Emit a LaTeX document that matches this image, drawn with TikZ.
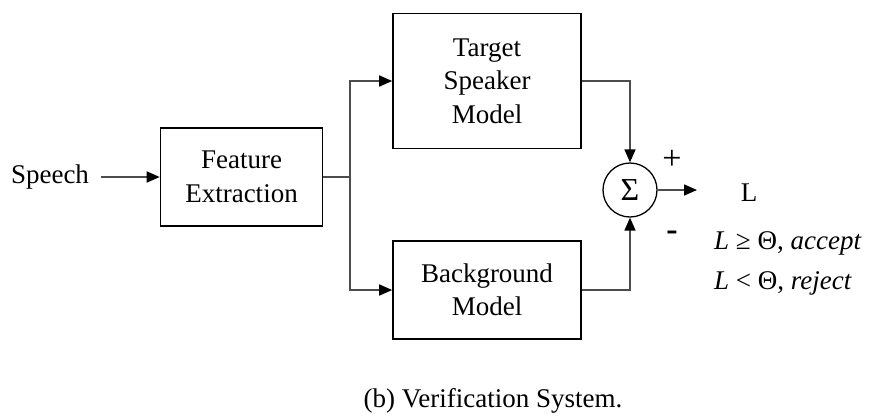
\documentclass[tikz,border=0pt]{standalone}
\usepackage{fontspec}
\setmainfont{Liberation Serif}
\usetikzlibrary{arrows.meta}
\begin{document}
\begin{tikzpicture}[x=1pt,y=-1pt,
  every node/.style={font=\fontsize{27}{33.5}\selectfont},
  blk/.style={draw=black,line width=1.6pt,align=center,inner sep=0pt},
  conn/.style={draw=black!70,line width=1.6pt},
  arr/.style={conn,-{Triangle[length=13pt,width=11pt,fill=black,color=black]}}]
\useasboundingbox (0,0) rectangle (872,416);
\node[inner xsep=6pt,inner ysep=0pt] (speech) at (50,177) {Speech};
\node[blk,minimum width=162pt,minimum height=98pt] (fe) at (241.5,177) {Feature\\Extraction};
\node[blk,minimum width=188pt,minimum height=135pt] (target) at (487,81) {Target\\Speaker\\Model};
\node[blk,minimum width=188pt,minimum height=98pt] (bg) at (487,290) {Background\\Model};
\node[draw=black,line width=1.3pt,circle,minimum size=54pt,inner sep=0pt,font=\fontsize{32}{36}\selectfont] (sum) at (630,190) {Σ};
\coordinate (split) at (350,177);
\coordinate (out) at (697,190);
\draw[arr] ([xshift=6pt]speech.east) -- (fe.west);
\draw[conn] (fe.east) -- (split);
\draw[arr] (split) |- (target.west);
\draw[arr] (split) |- (bg.west);
\draw[arr] (target.east) -| (sum.north);
\draw[arr] (bg.east) -| (sum.south);
\draw[arr] (sum.east) -- (out);
\node[font=\fontsize{34}{36}\selectfont] (plus) at (672,160) {+};
\node[font=\fontsize{34}{36}\selectfont\bfseries] (minus) at (672,236) {-};
\node (L) at (749,193) {L};
\node[anchor=west,inner sep=0pt] (acc) at (714,243) {\itshape L\/ \upshape ≥ Θ, \itshape accept};
\node[anchor=west,inner sep=0pt] (rej) at (714,283) {\itshape L\/ \upshape < Θ, \itshape reject};
\node (cap) at (493,401) {(b) Verification System.};
\end{tikzpicture}
\end{document}
